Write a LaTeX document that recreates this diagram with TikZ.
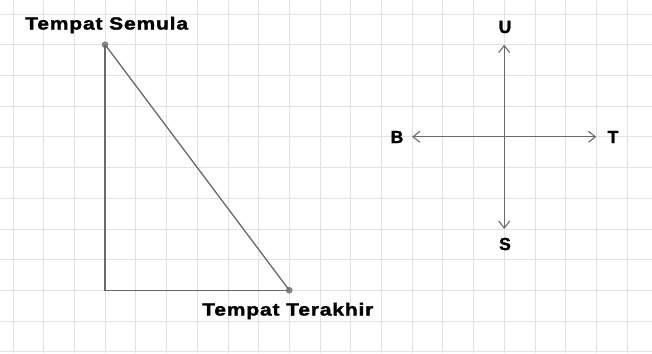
\documentclass[tikz,border=0pt]{standalone}
\usepackage{fontspec}
\setmainfont{Liberation Sans}
\newfontfamily\heavyfont{Liberation Sans}[BoldFeatures={FakeBold=1.6,LetterSpace=4}]
\usetikzlibrary{arrows.meta}
\definecolor{gridc}{HTML}{E2E2E2}
\definecolor{linec}{HTML}{6A6A6A}
\tikzset{
  lbl/.style={font=\heavyfont\fontsize{17.5}{17.5}\selectfont\bfseries, text=black, inner sep=0pt},
  pt/.style={circle, fill=linec!80, draw=linec, inner sep=0pt, minimum size=6pt},
  path/.style={draw=linec, line width=1.3pt},
  dir/.style={draw=linec, line width=1.2pt, -{Straight Barb[length=7pt,width=11pt,line width=1.1pt]}},
}
\begin{document}
\begin{tikzpicture}[x=1pt,y=-1pt]
\useasboundingbox (0,0) rectangle (652,353);
\fill[white] (0,0) rectangle (652,353);
% grid
\foreach \i in {0,...,20} {
  \draw[gridc, line width=0.8pt] ({13+30.7*\i},0) -- ({13+30.7*\i},353);
}
\foreach \j in {0,...,11} {
  \draw[gridc, line width=0.8pt] (0,{14+30.7*\j}) -- (652,{14+30.7*\j});
}
% triangle
\node[pt] (start) at (105.1,44.7) {};
\coordinate (corner) at (105.1,290.3);
\node[pt] (end) at (289.3,290.3) {};
\draw[path] (start.center) -- (corner) -- (end.center);
\draw[path] (start.center) -- (end.center);
\node[lbl, anchor=west] (semula) at (25,25) {\scalebox{1.2}[1]{Tempat Semula}};
\node[lbl, anchor=west] (akhir) at (202,311) {\scalebox{1.2}[1]{Tempat Terakhir}};
% compass
\coordinate (c) at (504.2,136.8);
\coordinate (un) at (504.2,44.7);
\coordinate (us) at (504.2,228.9);
\coordinate (ub) at (412.1,136.8);
\coordinate (ut) at (596.3,136.8);
\draw[dir] (c) -- (un);
\draw[dir] (c) -- (us);
\draw[dir] (c) -- (ub);
\draw[dir] (c) -- (ut);
\node[lbl] (U) at (505,27) {U};
\node[lbl] (S) at (505,244) {S};
\node[lbl] (B) at (397,137) {B};
\node[lbl] (T) at (613,137) {T};
\end{tikzpicture}
\end{document}
